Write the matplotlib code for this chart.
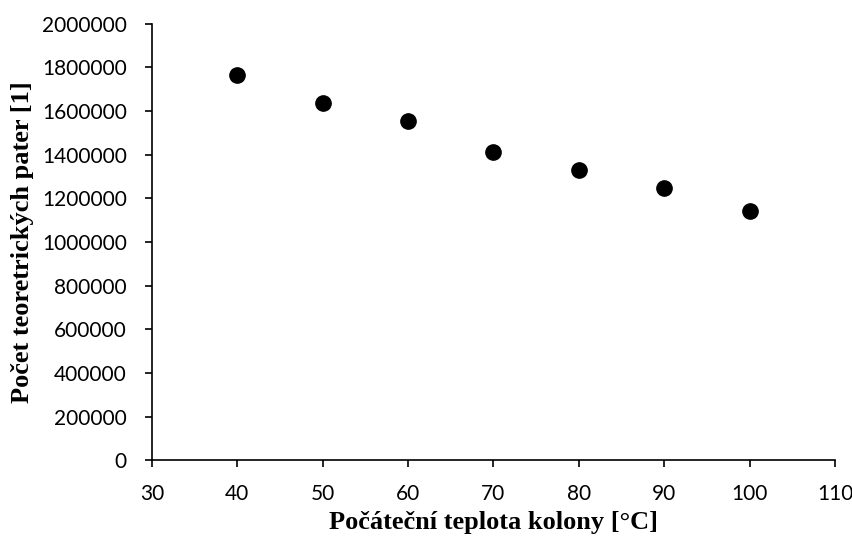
import matplotlib
matplotlib.use('Agg')
import matplotlib.pyplot as plt

# starting column temperature [°C] vs number of theoretical plates
teplota = [40, 50, 60, 70, 80, 90, 100]
pocet_pater = [1766000, 1639000, 1555000, 1411000, 1332000, 1246000, 1140000]

x_ticks = [30, 40, 50, 60, 70, 80, 90, 100, 110]
y_ticks = [0, 200000, 400000, 600000, 800000, 1000000, 1200000,
           1400000, 1600000, 1800000, 2000000]

fig = plt.figure(figsize=(8.53, 5.42), dpi=100)
ax = fig.add_axes([0.178, 0.151, 0.801, 0.805])

ax.plot(teplota, pocet_pater, 'o', color='black', markersize=11)

ax.set_xlim(30, 110)
ax.set_ylim(0, 2000000)
ax.set_xticks(x_ticks)
ax.set_yticks(y_ticks)
ax.set_xticklabels([str(t) for t in x_ticks], fontsize=15, family='Lato')
ax.set_yticklabels([str(t) for t in y_ticks], fontsize=15, family='Lato')

for s in ['top', 'right']:
    ax.spines[s].set_visible(False)
for s in ['left', 'bottom']:
    ax.spines[s].set_linewidth(1.2)
ax.tick_params(direction='out', length=5, width=1.2)
ax.tick_params(axis='x', pad=12)
ax.tick_params(axis='y', pad=13)

ax.set_xlabel('Počáteční teplota kolony [°C]', fontsize=19, fontweight='bold',
              family='Liberation Serif', labelpad=5)
ax.set_ylabel('Počet teoretrických pater [1]', fontsize=19, fontweight='bold',
              family='Liberation Serif', labelpad=6)

fig.savefig('out.png', dpi=100)
